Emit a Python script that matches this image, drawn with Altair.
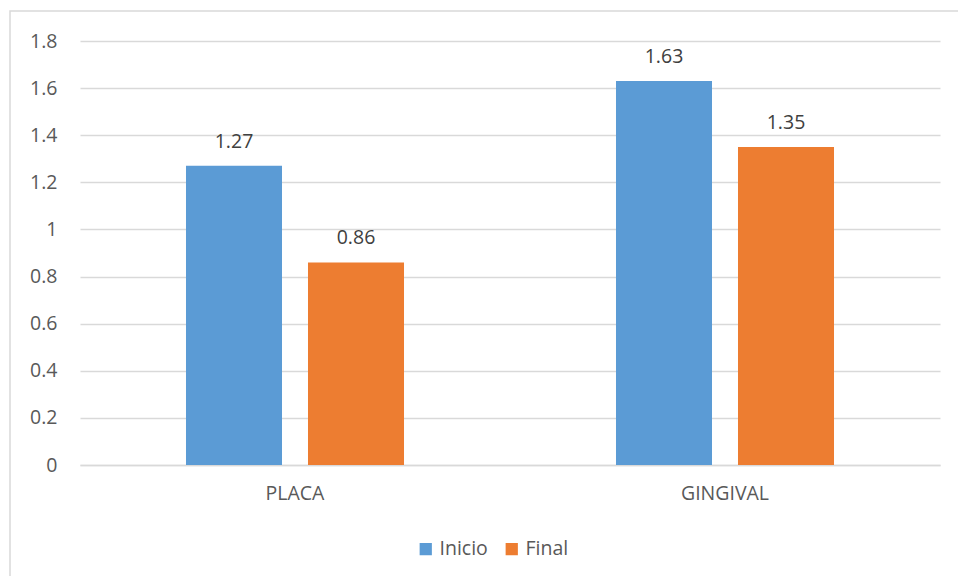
import altair as alt
import pandas as pd

categories = ["PLACA", "PLACA", "GINGIVAL", "GINGIVAL"]
series = ["Inicio", "Final", "Inicio", "Final"]
values = [1.27, 0.86, 1.63, 1.35]
labels = ["1.27", "0.86", "1.63", "1.35"]

df = pd.DataFrame({"cat": categories, "serie": series, "value": values, "label": labels})

FONT = "Open Sans"
FS = 19.5
cat_order = ["PLACA", "GINGIVAL"]
ser_order = ["Inicio", "Final"]

x = alt.X("cat:N", sort=cat_order, title=None,
          scale=alt.Scale(paddingInner=0.493, paddingOuter=0.2465),
          axis=alt.Axis(labelAngle=0, labelFontSize=FS, labelColor="#595959", labelFont=FONT,
                        labelPadding=19, ticks=False, domainColor="#d9d9d9", domainWidth=1.5,
                        grid=False))
xo = alt.XOffset("serie:N", sort=ser_order, scale=alt.Scale(paddingInner=0.213, paddingOuter=0))
y = alt.Y("value:Q", title=None,
          scale=alt.Scale(domain=[0, 1.8], nice=False),
          axis=alt.Axis(values=[0, 0.2, 0.4, 0.6, 0.8, 1, 1.2, 1.4, 1.6, 1.8], labelFontSize=FS,
                        labelColor="#595959", labelFont=FONT, labelPadding=23, ticks=False,
                        domain=False, gridColor="#d9d9d9", gridWidth=1.5, format="~g"))

color = alt.Color("serie:N", sort=ser_order,
                  scale=alt.Scale(domain=ser_order, range=["#5B9BD5", "#ED7D31"]),
                  legend=alt.Legend(title=None, orient="none", legendX=336, legendY=498,
                                    direction="horizontal", symbolType="square", symbolSize=150,
                                    symbolStrokeWidth=0, labelFontSize=FS, labelColor="#595959",
                                    labelFont=FONT, columnPadding=14, labelOffset=4))

frame = alt.Chart(pd.DataFrame({"a": [0]})).mark_rect(
    fill="white", fillOpacity=0, stroke="#d9d9d9", strokeWidth=1.5
).encode(x=alt.value(-70), x2=alt.value(900), y=alt.value(-30), y2=alt.value(600))

bars = alt.Chart(df).mark_bar().encode(x=x, xOffset=xo, y=y, color=color)

text = alt.Chart(df).mark_text(baseline="alphabetic", dy=-18, fontSize=FS, color="#404040", font=FONT).encode(
    x=alt.X("cat:N", sort=cat_order), xOffset=alt.XOffset("serie:N", sort=ser_order), y="value:Q", text="label:N")

chart = alt.layer(frame, bars, text).properties(
    width=860, height=424,
    autosize=alt.AutoSizeParams(type="none"),
    padding={"left": 80, "top": 41, "right": 18, "bottom": 111},
    background="white",
).configure_view(stroke=None)

chart.save("out.html", embed_options={"renderer": "svg", "actions": False})
